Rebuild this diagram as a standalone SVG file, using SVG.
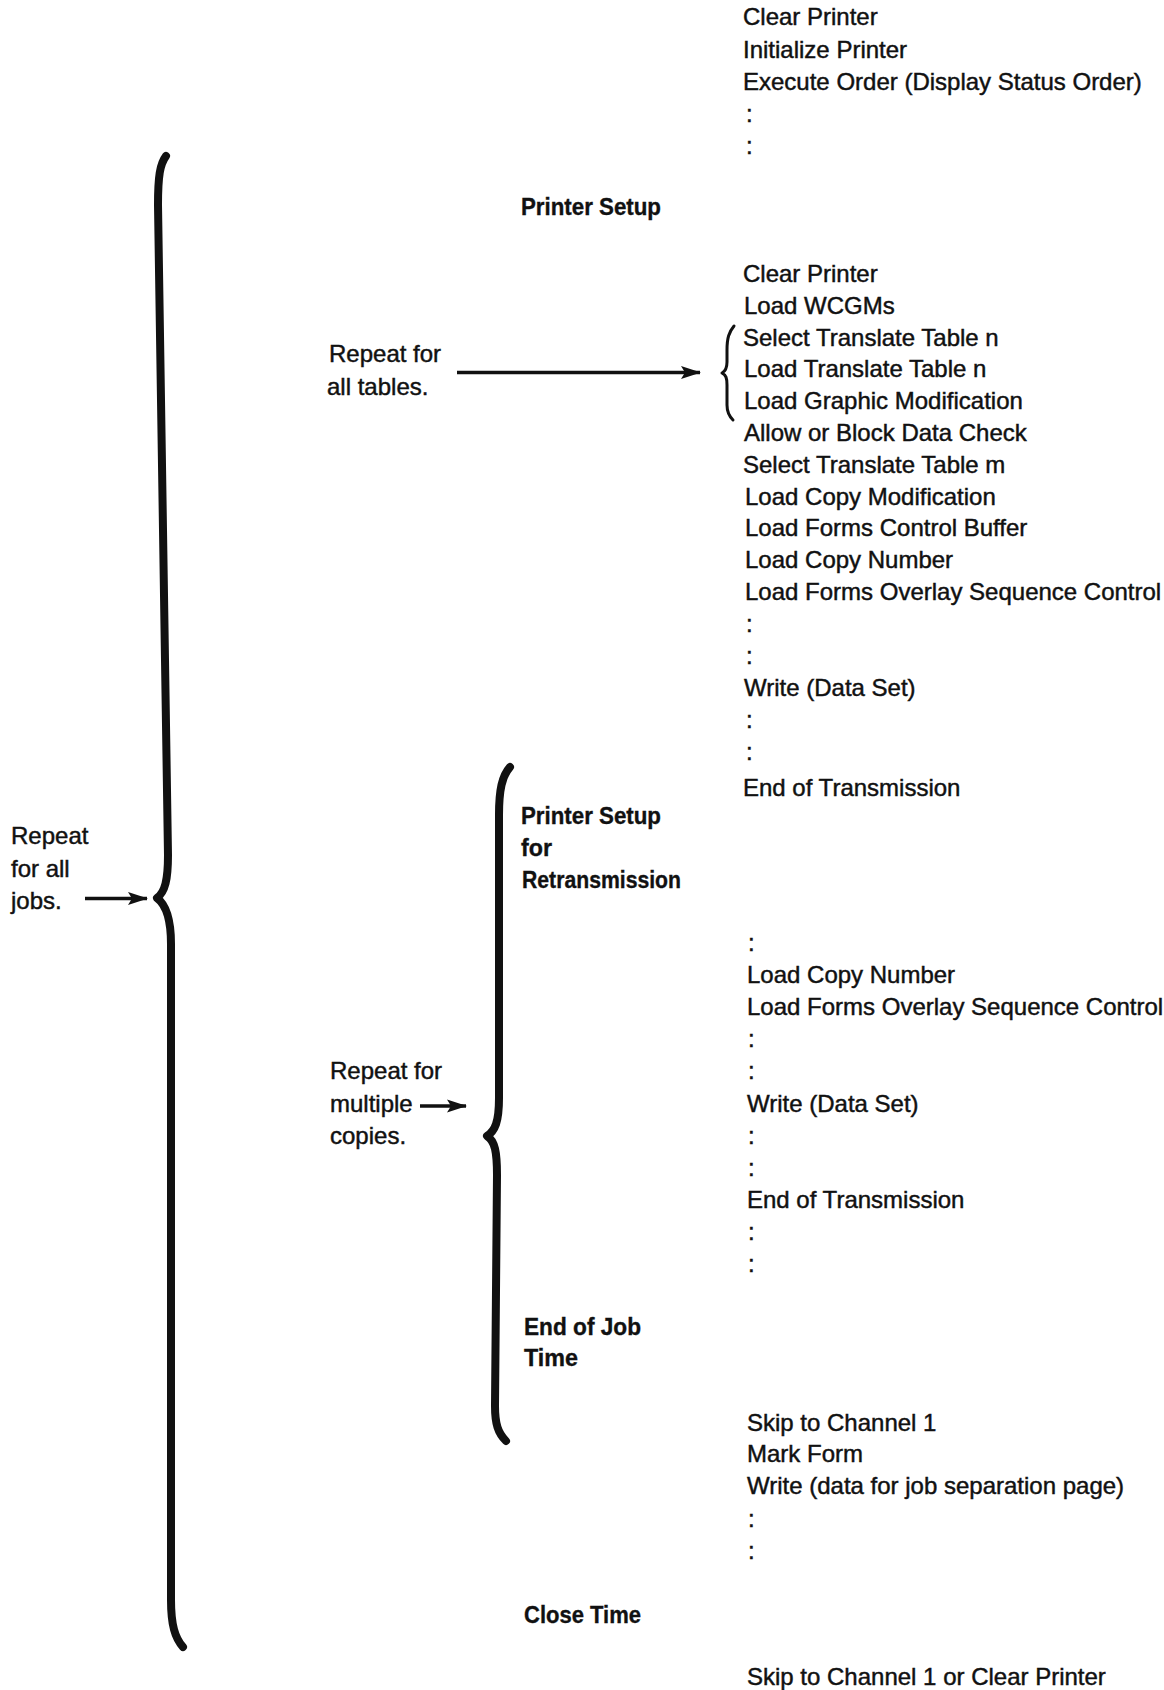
<svg xmlns="http://www.w3.org/2000/svg" width="1164" height="1690" viewBox="0 0 1164 1690">
  <style>
    text { font-family: "Liberation Sans", Arial, sans-serif; fill: #111; }
    .t { font-size: 24px; stroke: #111; stroke-width: 0.45; }
    .b { font-size: 23.5px; font-weight: bold; stroke: #111; stroke-width: 0.35; }
    .brace { fill: none; stroke: #111; stroke-linecap: round; stroke-linejoin: round; }
    .arrow { stroke: #111; stroke-width: 3.5; fill: none; }
  </style>
  <defs>
    <marker id="head" markerUnits="userSpaceOnUse" markerWidth="20" markerHeight="14" refX="19" refY="7" orient="auto">
      <path d="M0,0.5 L20,7 L0,13.5 L4,7 z" fill="#111"/>
    </marker>
  </defs>

  <rect width="1164" height="1690" fill="#fff"/>

  <!-- braces and arrows -->
  <g id="connectors">
    <path class="brace" stroke-width="8" d="M166 156 C160 164 158 176 158 205 L168 855 C168 880 165 892 157 898 C165 904 171 916 171 944 L171 1600 C171 1625 175 1638 183 1647"/>
    <path class="brace" stroke-width="8" d="M510 767 C502 776 499 790 499 815 L499 1098 C499 1122 495 1131 487 1136 C495 1141 497 1152 497 1175 L495 1406 C495 1424 498 1433 506 1441"/>
    <path class="brace" stroke-width="3" d="M734 326 C729 332 727 338 727 350 L727 362 C727 368 726 371 722 373 C726 375 727 378 727 385 L727 405 C727 412 729 416 733 420"/>
    <line class="arrow" x1="457" y1="372.5" x2="700" y2="372.5" marker-end="url(#head)"/>
    <line class="arrow" x1="85" y1="898.5" x2="147" y2="898.5" marker-end="url(#head)"/>
    <line class="arrow" x1="420" y1="1106" x2="466" y2="1106" marker-end="url(#head)"/>
  </g>

  <!-- opening command sequence -->
  <g id="open-seq" class="t">
    <text x="743" y="25">Clear Printer</text>
    <text x="743" y="57.5">Initialize Printer</text>
    <text x="743" y="90">Execute Order (Display Status Order)</text>
    <text x="746" y="122">:</text>
    <text x="746" y="154">:</text>
  </g>

  <g id="printer-setup" class="b">
    <text x="521" y="215" textLength="140" lengthAdjust="spacingAndGlyphs">Printer Setup</text>
  </g>

  <!-- setup command sequence -->
  <g id="setup-seq" class="t">
    <text x="743" y="282">Clear Printer</text>
    <text x="744" y="313.8">Load WCGMs</text>
    <text x="743" y="345.6">Select Translate Table n</text>
    <text x="744" y="377.4">Load Translate Table n</text>
    <text x="744" y="409.2">Load Graphic Modification</text>
    <text x="744" y="441">Allow or Block Data Check</text>
    <text x="743" y="472.8">Select Translate Table m</text>
    <text x="745" y="504.6">Load Copy Modification</text>
    <text x="745" y="536.4">Load Forms Control Buffer</text>
    <text x="745" y="568.2">Load Copy Number</text>
    <text x="745" y="600">Load Forms Overlay Sequence Control</text>
    <text x="746" y="632">:</text>
    <text x="746" y="664">:</text>
    <text x="744" y="695.6">Write (Data Set)</text>
    <text x="746" y="728">:</text>
    <text x="746" y="760">:</text>
    <text x="743" y="796">End of Transmission</text>
  </g>

  <g id="repeat-tables" class="t">
    <text x="329" y="361.5">Repeat for</text>
    <text x="327" y="395">all tables.</text>
  </g>

  <g id="repeat-jobs" class="t">
    <text x="11" y="844">Repeat</text>
    <text x="11" y="876.7">for all</text>
    <text x="11" y="909">jobs.</text>
  </g>

  <g id="retransmission" class="b">
    <text x="521" y="824" textLength="140" lengthAdjust="spacingAndGlyphs">Printer Setup</text>
    <text x="521" y="856" textLength="31" lengthAdjust="spacingAndGlyphs">for</text>
    <text x="522" y="887.5" textLength="159" lengthAdjust="spacingAndGlyphs">Retransmission</text>
  </g>

  <!-- retransmission command sequence -->
  <g id="retrans-seq" class="t">
    <text x="748" y="951">:</text>
    <text x="747" y="983.4">Load Copy Number</text>
    <text x="747" y="1014.7">Load Forms Overlay Sequence Control</text>
    <text x="748" y="1047">:</text>
    <text x="748" y="1079">:</text>
    <text x="747" y="1111.7">Write (Data Set)</text>
    <text x="748" y="1144">:</text>
    <text x="748" y="1176">:</text>
    <text x="747" y="1207.6">End of Transmission</text>
    <text x="748" y="1240">:</text>
    <text x="748" y="1272">:</text>
  </g>

  <g id="repeat-copies" class="t">
    <text x="330" y="1079">Repeat for</text>
    <text x="330" y="1111.7">multiple</text>
    <text x="330" y="1144">copies.</text>
  </g>

  <g id="end-of-job" class="b">
    <text x="524" y="1335" textLength="117" lengthAdjust="spacingAndGlyphs">End of Job</text>
    <text x="524" y="1366" textLength="54" lengthAdjust="spacingAndGlyphs">Time</text>
  </g>

  <!-- end-of-job command sequence -->
  <g id="eoj-seq" class="t">
    <text x="747" y="1430.7">Skip to Channel 1</text>
    <text x="747" y="1462">Mark Form</text>
    <text x="747" y="1494.3">Write (data for job separation page)</text>
    <text x="748" y="1526.6">:</text>
    <text x="748" y="1559">:</text>
  </g>

  <g id="close-time" class="b">
    <text x="524" y="1622.5" textLength="117" lengthAdjust="spacingAndGlyphs">Close Time</text>
  </g>

  <g id="close-seq" class="t">
    <text x="747" y="1685">Skip to Channel 1 or Clear Printer</text>
  </g>
</svg>
